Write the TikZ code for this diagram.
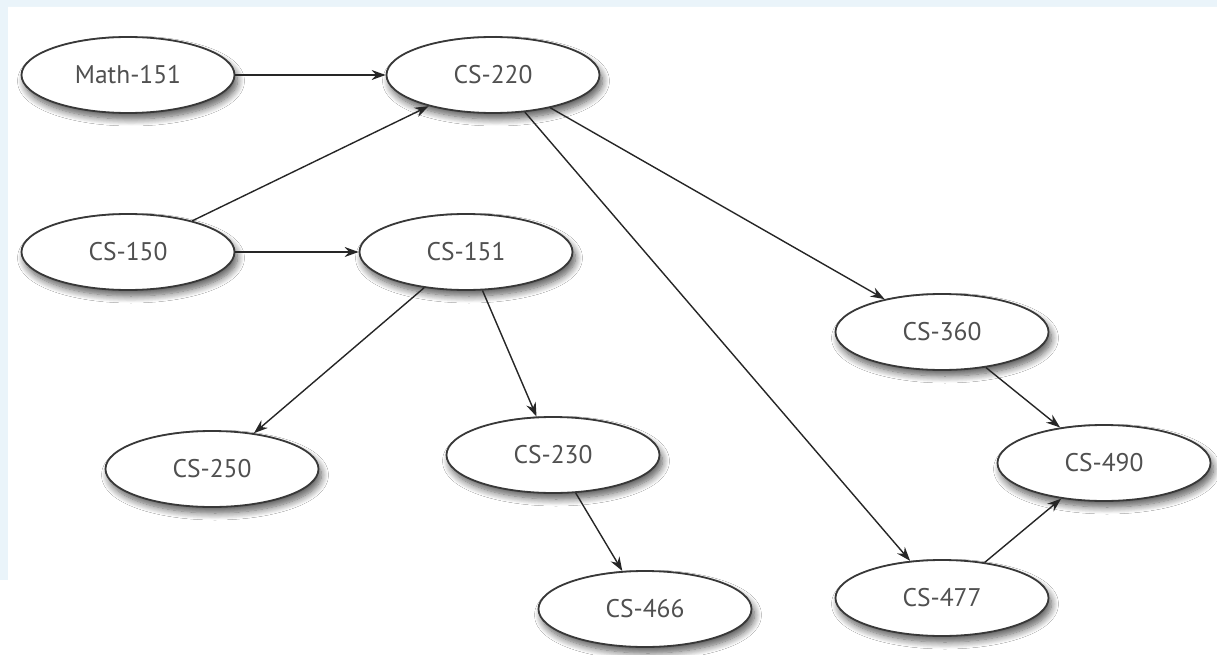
\documentclass[tikz,border=0pt]{standalone}
\usepackage{fontspec}
\setmainfont{PT Sans}
\usetikzlibrary{arrows.meta,shapes.geometric,shadows.blur}
\definecolor{bgblue}{HTML}{EAF4FA}
\definecolor{txt}{HTML}{505050}
\begin{document}
\begin{tikzpicture}[x=1pt,y=-1pt,
 course/.style={ellipse,draw=black!78,line width=1.8pt,fill=white,
   minimum width=213pt,minimum height=76pt,inner sep=0pt,text=txt,
   font=\fontsize{25.5}{30}\selectfont,
   blur shadow={shadow xshift=3pt,shadow yshift=-6pt,shadow blur steps=10,shadow blur radius=7pt,shadow opacity=65}},
 link/.style={-{Stealth[length=14pt,width=10pt]},line width=1.4pt,draw=black!85}]
\useasboundingbox (0,0) rectangle (1217,655);
\fill[bgblue] (0,0) rectangle (1217,655);
\fill[white] (8,7) -- (1217,7) -- (1217,655) -- (0,655) -- (0,580) -- (8,580) -- cycle;
\node[course] (m151) at (128,75) {Math-151};
\node[course] (c220) at (493,75) {CS-220};
\node[course] (c150) at (128,252) {CS-150};
\node[course] (c151) at (466,252) {CS-151};
\node[course] (c360) at (942,332) {CS-360};
\node[course] (c250) at (212,469) {CS-250};
\node[course] (c230) at (553,455) {CS-230};
\node[course] (c490) at (1104,463) {CS-490};
\node[course] (c466) at (645,609) {CS-466};
\node[course] (c477) at (942,598) {CS-477};
\draw[link] (m151) -- (c220);
\draw[link] (c150) -- (c220);
\draw[link] (c150) -- (c151);
\draw[link] (c151) -- (c250);
\draw[link] (c151) -- (c230);
\draw[link] (c220) -- (c360);
\draw[link] (c220) -- (c477);
\draw[link] (c360) -- (c490);
\draw[link] (c477) -- (c490);
\draw[link] (c230) -- (c466);
\end{tikzpicture}
\end{document}
